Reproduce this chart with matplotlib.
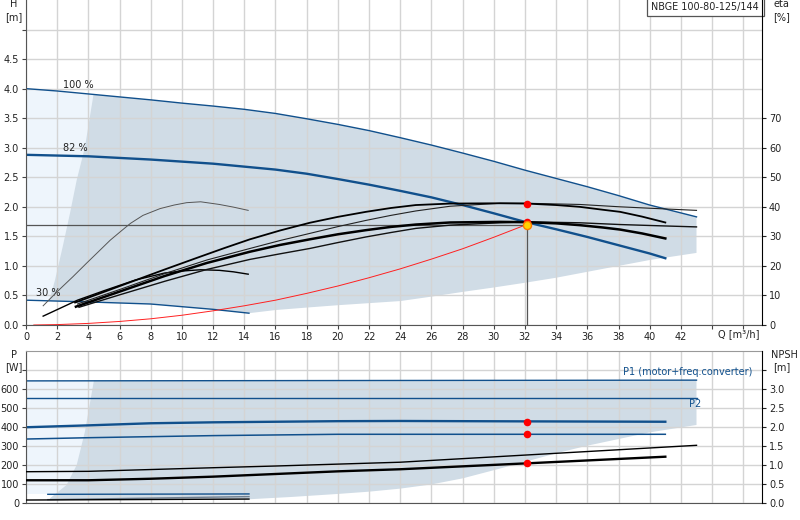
import numpy as np
import matplotlib
matplotlib.use("Agg")
import matplotlib.pyplot as plt

plt.rcParams["font.family"] = ["DejaVu Sans"]
plt.rcParams["font.size"] = 7

# ---- pump curves H(Q) ----
q_100 = [0, 2, 4, 6, 8, 10, 12, 14, 16, 18, 20, 22, 24, 26, 28, 30, 32, 34, 36, 38, 40, 43]
h_100 = [4.0, 3.96, 3.91, 3.86, 3.81, 3.755, 3.705, 3.65, 3.58, 3.49, 3.395, 3.29, 3.17, 3.045,
         2.91, 2.77, 2.62, 2.48, 2.34, 2.19, 2.03, 1.83]
q_82 = [0, 4, 8, 12, 16, 18, 20, 22, 24, 26, 28, 30, 32, 34, 36, 38, 40, 41]
h_82 = [2.88, 2.855, 2.80, 2.73, 2.63, 2.56, 2.47, 2.375, 2.27, 2.16, 2.03, 1.89, 1.745,
        1.62, 1.49, 1.35, 1.21, 1.13]
q_30 = [0, 4, 8, 12, 14.3]
h_30 = [0.42, 0.39, 0.355, 0.265, 0.2]

# system curve (red)
q_sys = [0.5, 2, 4, 6, 8, 10, 12, 14, 16, 18, 20, 22, 24, 26, 28, 30, 32.1]
h_sys = [0.0, 0.007, 0.027, 0.06, 0.105, 0.165, 0.24, 0.325, 0.42, 0.535, 0.66, 0.80, 0.95,
         1.115, 1.29, 1.485, 1.70]

# duty point
q_duty = 32.1
h_duty = 1.70

# ---- efficiency curves (eta %) ----
q_eta30_pump = [1.1, 2.0, 3.0, 3.9, 4.7, 5.4, 6.1, 6.7, 7.5, 8.6, 9.5, 10.3, 11.2, 12.4, 13.3, 14.25]
eta30_pump = [6.5, 11.3, 16.3, 21.0, 25.1, 28.7, 31.8, 34.4, 37.1, 39.4, 40.6, 41.4, 41.7, 40.8, 39.9, 38.8]
q_eta30_tot = [1.1, 2.2, 3.3, 5, 7, 8.9, 10.1, 11.2, 12.4, 13.3, 14.25]
eta30_tot = [3.0, 5.7, 8.4, 11.6, 15.2, 17.6, 18.3, 18.7, 18.5, 18.0, 17.2]
q_eta82_pump = [3.15, 5, 7, 8.9, 11, 12.7, 14.36, 16.3, 18.2, 20, 21.8, 23.4, 25, 27.2, 30.4,
                32.1, 34, 35.5, 37, 38.1, 39.5, 41]
eta82_pump = [7.6, 11.2, 15.1, 18.8, 22.8, 26.0, 29.0, 32.0, 34.6, 36.6, 38.3, 39.6, 40.6, 41.1,
              41.2, 41.1, 40.6, 40.0, 39.0, 38.3, 36.7, 34.7]
q_eta100_pump = [3.3, 6, 8.9, 11.6, 14.36, 16.3, 18.2, 20, 21.8, 23.4, 25, 27.2, 30.4, 32.1, 35.5,
                 38.1, 40.5, 43]
eta100_pump = [7.1, 12.0, 17.4, 22.0, 25.9, 28.6, 31.0, 33.3, 35.4, 37.1, 38.6, 40.2, 41.2, 41.2,
               40.8, 40.0, 39.4, 38.8]
q_eta82_tot = [3.2, 6, 8.9, 11.6, 14.36, 16.3, 18.2, 20, 21.8, 23.4, 25, 27.2, 30.4, 32.1, 34,
               35.5, 37, 38.1, 39.5, 41]
eta82_tot = [6.2, 11.3, 16.6, 21.0, 24.8, 27.1, 29.0, 30.7, 32.1, 33.2, 34.0, 34.7, 34.9, 34.8,
             34.4, 33.8, 33.0, 32.3, 31.0, 29.3]
q_eta100_tot = [3.4, 6, 8.9, 11.6, 14.36, 16.3, 18.2, 20, 21.8, 23.4, 25, 27.2, 30.4, 32.1, 35.5,
                38.1, 40.5, 43]
eta100_tot = [6.0, 10.2, 14.8, 18.8, 22.2, 24.1, 25.9, 27.9, 29.8, 31.3, 32.7, 33.8, 34.6, 34.9,
              34.6, 34.0, 33.6, 33.2]
eta_duty = [41.1, 34.9]

# operating area (top)
q_area_left = [1.5, 1.86, 2.35, 2.82, 3.25, 3.78, 4.32]
h_area_left = [0.42, 0.76, 1.32, 1.89, 2.45, 3.01, 3.885]
q_area_low = [43, 42, 40, 38, 36, 34, 32, 30, 28, 26, 24, 22, 20, 18, 16, 14.3]
h_area_low = [1.22, 1.18, 1.10, 1.0, 0.90, 0.80, 0.715, 0.635, 0.56, 0.48, 0.405, 0.37, 0.335,
              0.295, 0.253, 0.2]

# ---- power / NPSH ----
q_p1_100 = [0, 43]
p1_100 = [641, 645]
q_p2_100 = [0, 43]
p2_100 = [549, 549]
q_p1_82 = [0, 4, 8, 12, 16, 20, 24, 32.1, 41]
p1_82 = [397, 407, 418, 423, 426, 429, 430, 428, 426]
q_p2_82 = [0, 4, 12, 20, 32.1, 41]
p2_82 = [335, 342, 353, 360, 360, 360]
q_p1_30 = [1.4, 14.3]
p1_30 = [44, 46]
q_p2_30 = [1.4, 14.3]
p2_30 = [16, 32]
q_npsh_100 = [0, 4, 12, 16, 24, 32.1, 43]
npsh_100 = [0.815, 0.825, 0.92, 0.965, 1.065, 1.255, 1.51]
q_npsh_82 = [0, 4, 8, 12, 16, 20, 24, 32.1, 41]
npsh_82 = [0.59, 0.59, 0.63, 0.685, 0.755, 0.825, 0.88, 1.035, 1.21]
q_npsh_30 = [0, 14.3]
npsh_30 = [0.07, 0.095]
p_duty = [426, 360]
npsh_duty = 1.035

# operating area (bottom)
q_parea_left = [1.54, 2.6, 3.25, 3.78, 4.36]
p_parea_left = [23, 93, 198, 374, 645]
q_parea_low = [43, 40, 38, 36, 34, 32, 30, 28, 26, 24, 22, 20, 17, 14.3, 1.54]
p_parea_low = [409, 370, 335, 300, 260, 215, 171, 128, 96, 74, 58, 46, 30, 18, 15]

BLUE = "#11508c"
DARK = "#d0dce6"
LIGHT = "#eef5fc"
GRID = "#d4d4d4"
XMAX = 47.2

fig = plt.figure(figsize=(8, 5.2), dpi=100)
ax = fig.add_axes([0.0325, 0.375, 0.92, 0.625])
axb = fig.add_axes([0.0325, 0.0333, 0.92, 0.2923])


def style(a, ymax, yticks, labels):
    a.set_xlim(0, XMAX)
    a.set_ylim(0, ymax)
    a.set_xticks(np.arange(0, 47, 2))
    a.set_yticks(yticks)
    a.set_yticklabels(labels)
    a.set_axisbelow(True)
    a.grid(True, color=GRID, linewidth=1.0)
    a.tick_params(length=3, width=0.8, colors="#444", labelcolor="#222", pad=2)
    for s in ["left", "bottom"]:
        a.spines[s].set_color("#555")
    a.spines["right"].set_visible(False)


# ---------- top: H ----------
h_ticks = np.arange(0, 5.01, 0.5)
style(ax, 5.5, h_ticks, [f"{v:.1f}" for v in h_ticks[:-1]] + [""])
ax.spines["top"].set_visible(False)
ax.set_xticklabels([str(v) for v in range(0, 43, 2)] + ["", ""])
ax.text(45.7, -0.012, "Q [m³/h]", transform=ax.get_xaxis_transform(), ha="center", va="top", color="#222")

# light area left of operating range
qq = np.linspace(0, 4.4, 30)
ax.fill_between(qq, np.interp(qq, q_30, h_30), np.interp(qq, q_100, h_100), color=LIGHT, lw=0, zorder=0.2)
# dark operating range
q_top = np.linspace(4.32, 43, 60)
q_bot = np.linspace(14.3, 1.5, 30)
poly_q = q_area_left + list(q_top) + q_area_low + list(q_bot)
poly_h = h_area_left + list(np.interp(q_top, q_100, h_100)) + h_area_low + list(np.interp(q_bot, q_30, h_30))
ax.fill(poly_q, poly_h, color=DARK, lw=0, zorder=0.3)

ax.plot(q_100, h_100, color=BLUE, lw=1.0)
ax.plot(q_82, h_82, color=BLUE, lw=1.7)
ax.plot(q_30, h_30, color=BLUE, lw=1.0)
ax.plot(q_sys, h_sys, color="#ff2020", lw=0.7)
ax.plot([0, q_duty], [h_duty, h_duty], color="#555", lw=0.9)
ax.plot([q_duty, q_duty], [0, h_duty], color="#555", lw=0.9)
ax.text(2.37, 4.07, "100 %", va="center", color="#222")
ax.text(2.37, 3.0, "82 %", va="center", color="#222")
ax.text(0.64, 0.55, "30 %", va="center", color="#222")

# eta axis
ax_eta = ax.twinx()
ax_eta.set_ylim(0, 110)
ax_eta.set_yticks(np.arange(0, 71, 10))
ax_eta.tick_params(length=3, width=0.8, colors="#222", pad=2)
for s in ["left", "top", "bottom"]:
    ax_eta.spines[s].set_visible(False)
ax_eta.spines["right"].set_color("black")
ax_eta.plot(q_eta30_pump, eta30_pump, color="#555", lw=0.7)
ax_eta.plot(q_eta30_tot, eta30_tot, color="black", lw=1.0)
ax_eta.plot(q_eta100_pump, eta100_pump, color="#222", lw=0.8)
ax_eta.plot(q_eta82_pump, eta82_pump, color="black", lw=1.3)
ax_eta.plot(q_eta100_tot, eta100_tot, color="#111", lw=1.0)
ax_eta.plot(q_eta82_tot, eta82_tot, color="black", lw=1.8)
ax_eta.scatter([q_duty, q_duty], eta_duty, s=30, color="red", zorder=5, lw=0)
ax_eta.scatter([q_duty], [h_duty * 20], s=34, color="#ffd200", edgecolor="#ff7a00", lw=1.0, zorder=6)

ax.text(0.996, 0.995, "NBGE 100-80-125/144", transform=ax.transAxes, ha="right", va="top",
        fontsize=6.9, color="#222", zorder=10,
        bbox=dict(boxstyle="square,pad=0.5", fc="white", ec="#555", lw=0.9))

# axis unit labels
fig.text(0.0175, 0.992, "H", ha="center", va="center", color="#222")
fig.text(0.0175, 0.967, "[m]", ha="center", va="center", color="#222")
fig.text(0.977, 0.992, "eta", ha="center", va="center", color="#222")
fig.text(0.977, 0.967, "[%]", ha="center", va="center", color="#222")

# ---------- bottom: P / NPSH ----------
p_ticks = np.arange(0, 701, 100)
style(axb, 800, p_ticks, [str(v) for v in p_ticks[:-1]] + [""])
axb.spines["top"].set_color("#999")
axb.set_xticklabels([])
axb.tick_params(axis="x", length=0)

qq = np.linspace(0, 4.4, 10)
axb.fill_between(qq, 44, 645, color=LIGHT, lw=0, zorder=0.2)
axb.fill(q_parea_left + [43] + q_parea_low, p_parea_left + [645] + p_parea_low, color=DARK, lw=0, zorder=0.3)

axb.plot(q_p1_100, p1_100, color=BLUE, lw=1.0)
axb.plot(q_p2_100, p2_100, color=BLUE, lw=1.0)
axb.plot(q_p1_82, p1_82, color=BLUE, lw=1.7)
axb.plot(q_p2_82, p2_82, color=BLUE, lw=1.1)
axb.plot(q_p1_30, p1_30, color=BLUE, lw=1.0)
axb.plot(q_p2_30, p2_30, color="#6f7f90", lw=1.0)
axb.scatter([q_duty, q_duty], p_duty, s=30, color="red", zorder=5, lw=0)
axb.text(46.6, 686, "P1 (motor+freq.converter)", ha="right", va="center", color=BLUE)
axb.text(42.9, 518, "P2", ha="center", va="center", color=BLUE)

ax_npsh = axb.twinx()
ax_npsh.set_ylim(0, 4.0)
npsh_ticks = np.arange(0, 3.51, 0.5)
ax_npsh.set_yticks(npsh_ticks)
ax_npsh.set_yticklabels([f"{v:.1f}" for v in npsh_ticks[:-1]] + [""])
ax_npsh.tick_params(length=3, width=0.8, colors="#222", pad=2)
for s in ["left", "top", "bottom"]:
    ax_npsh.spines[s].set_visible(False)
ax_npsh.spines["right"].set_color("black")
ax_npsh.plot(q_npsh_100, npsh_100, color="black", lw=1.0)
ax_npsh.plot(q_npsh_82, npsh_82, color="black", lw=1.7)
ax_npsh.plot(q_npsh_30, npsh_30, color="black", lw=1.0)
ax_npsh.scatter([q_duty], [npsh_duty], s=30, color="red", zorder=5, lw=0)

fig.text(0.0175, 0.317, "P", ha="center", va="center", color="#222")
fig.text(0.0175, 0.294, "[W]", ha="center", va="center", color="#222")
fig.text(0.981, 0.317, "NPSH", ha="center", va="center", color="#222")
fig.text(0.977, 0.294, "[m]", ha="center", va="center", color="#222")

fig.savefig("out.png", dpi=100)
